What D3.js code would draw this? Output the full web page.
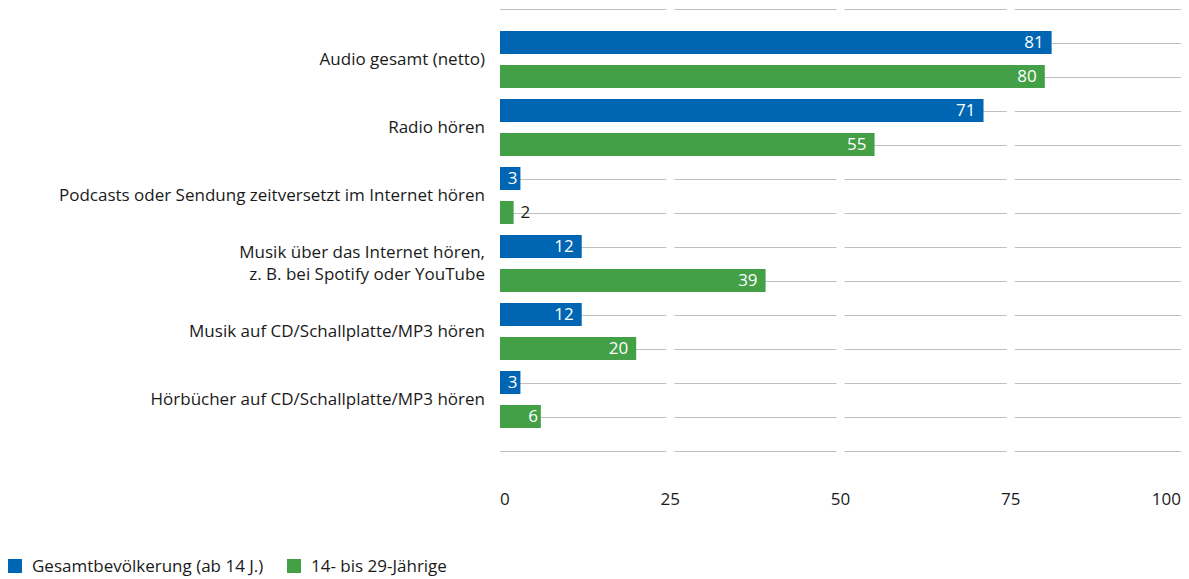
<!DOCTYPE html>
<html><head><meta charset="utf-8">
<script src="https://cdn.jsdelivr.net/npm/d3@7"></script>
<style>
body{margin:0;background:#fff;}
svg{display:block;font-family:"Open Sans","Noto Sans",sans-serif;}
</style></head>
<body><svg id="c" width="1189" height="579"></svg>
<script>
const categories = [
  ["Audio gesamt (netto)"],
  ["Radio hören"],
  ["Podcasts oder Sendung zeitversetzt im Internet hören"],
  ["Musik über das Internet hören,", "z. B. bei Spotify oder YouTube"],
  ["Musik auf CD/Schallplatte/MP3 hören"],
  ["Hörbücher auf CD/Schallplatte/MP3 hören"]
];
const seriesNames = ["Gesamtbevölkerung (ab 14 J.)", "14- bis 29-Jährige"];
const gesamt = [81, 71, 3, 12, 12, 3];
const jung = [80, 55, 2, 39, 20, 6];
const ticks = [0, 25, 50, 75, 100];
const colors = ["#0066b3", "#43a047"];

const FS = 17;
const svg = d3.select("#c");
const x = d3.scaleLinear().domain([0, 100]).range([500, 1181]);
const keys = categories.map((c, i) => i);
const y0 = d3.scaleBand().domain(keys).range([25.5, 433.5]);
const y1 = d3.scaleBand().domain([0, 1]).range([0, y0.bandwidth()])
  .paddingInner(11/34).paddingOuter(11/68);
const step = y1.step();

// gridlines
const lineYs = [];
lineYs.push(y0(0) + y1(0) + y1.bandwidth()/2 - step);
keys.forEach(k => [0,1].forEach(s => lineYs.push(y0(k) + y1(s) + y1.bandwidth()/2)));
lineYs.push(lineYs[lineYs.length-1] + step);
const grid = svg.append("g");
lineYs.forEach(yy => {
  for (let t = 0; t < ticks.length - 1; t++) {
    const a = ticks[t], b = ticks[t+1];
    grid.append("line")
      .attr("x1", x(a) + (a > 0 ? 4 : 0))
      .attr("x2", x(b) - (b < 100 ? 4 : 0))
      .attr("y1", Math.round(yy) + 0.5).attr("y2", Math.round(yy) + 0.5)
      .attr("stroke", "#c0c0c0").attr("stroke-width", 1.2);
  }
});

// bars
const rows = [];
keys.forEach(k => {
  rows.push({k, s: 0, v: gesamt[k]});
  rows.push({k, s: 1, v: jung[k]});
});
const g = svg.append("g");
rows.forEach(r => {
  const yy = y0(r.k) + y1(r.s);
  const w = x(r.v) - x(0);
  g.append("rect").attr("x", x(0)).attr("y", yy)
    .attr("width", w).attr("height", y1.bandwidth())
    .attr("fill", colors[r.s]);
  const inside = w >= 18;
  g.append("text")
    .attr("x", inside ? x(r.v) - (r.v < 10 ? 3 : 8) : x(r.v) + 7)
    .attr("y", yy + y1.bandwidth()/2)
    .attr("dy", "0.35em")
    .attr("text-anchor", inside ? "end" : "start")
    .attr("font-size", FS)
    .attr("fill", inside ? "#fff" : "#1a1a1a")
    .text(r.v);
});

// category labels
keys.forEach(k => {
  const lines = categories[k];
  const cy = y0(k) + y0.bandwidth()/2;
  const lh = 22;
  const t = svg.append("text").attr("text-anchor", "end")
    .attr("font-size", FS).attr("fill", "#1a1a1a");
  lines.forEach((ln, i) => {
    t.append("tspan").attr("x", 485)
      .attr("y", cy + (i - (lines.length - 1)/2) * lh)
      .attr("dy", "0.35em").text(ln);
  });
});

// x axis labels
ticks.forEach((t, i) => {
  svg.append("text").attr("x", x(t)).attr("y", 499).attr("dy", "0.35em")
    .attr("text-anchor", i === 0 ? "start" : (i === ticks.length - 1 ? "end" : "middle"))
    .attr("font-size", FS).attr("fill", "#1a1a1a").text(t);
});

// legend
const legX = [8, 287];
seriesNames.forEach((n, i) => {
  svg.append("rect").attr("x", legX[i]).attr("y", 559).attr("width", 14).attr("height", 14)
    .attr("fill", colors[i]);
  svg.append("text").attr("x", legX[i] + 24).attr("y", 566).attr("dy", "0.35em")
    .attr("font-size", FS).attr("fill", "#1a1a1a").text(n);
});
</script></body></html>
